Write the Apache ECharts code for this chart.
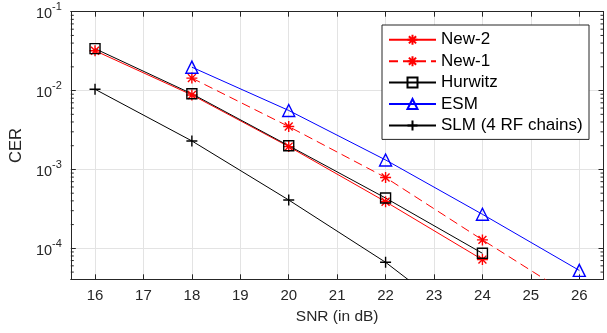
<!DOCTYPE html>
<html>
<head>
<meta charset="utf-8">
<script src="https://cdn.jsdelivr.net/npm/echarts@6/dist/echarts.min.js"></script>
<style>html,body{margin:0;padding:0;background:#fff}#c{width:607px;height:333px}</style>
</head>
<body>
<div id="c"></div>
<script>
var snr = [16, 18, 20, 22, 24, 26];
var new2 = [0.032, 0.0088, 0.00195, 0.00039, 0.000072, null];
var new1 = [null, 0.0144, 0.0035, 0.00079, 0.000128, 0.0000215];
var hurwitz = [0.034, 0.0091, 0.002, 0.000434, 0.0000865, null];
var esm = [null, 0.0198, 0.0056, 0.00132, 0.00027, 0.0000525];
var slm = [0.0104, 0.0023, 0.00041, 0.0000665, 0.0000076, null];
var xTicks = [16, 17, 18, 19, 20, 21, 22, 23, 24, 25, 26];
var seriesNames = ['New-2', 'New-1', 'Hurwitz', 'ESM', 'SLM (4 RF chains)'];

var X_MIN = 15.5, X_MAX = 26.5, Y_MIN = 4.05e-5, Y_MAX = 0.1;
var AX = '#262626', GRID = '#e3e3e3';

function pairs(vals) {
  var out = [];
  for (var i = 0; i < snr.length; i++) if (vals[i] != null) out.push([snr[i], vals[i]]);
  return out;
}
var minorVals = [];
for (var k = -5; k <= -2; k++) for (var m = 2; m <= 9; m++) {
  var v = m * Math.pow(10, k);
  if (v > Y_MIN && v < Y_MAX) minorVals.push([X_MIN, v]);
}

var STAR = 'path://M0,-1L0,1M-1,0L1,0M-0.72,-0.72L0.72,0.72M-0.72,0.72L0.72,-0.72';
var PLUS = 'path://M0,-1L0,1M-1,0L1,0';

function mk(name, vals, color, symbol, size, dashed) {
  return {
    name: name, type: 'line', data: pairs(vals),
    symbol: symbol, symbolSize: size, showAllSymbol: true,
    lineStyle: {color: color, width: 1, type: dashed ? [9, 5] : 'solid'},
    itemStyle: {color: 'transparent', borderColor: color, borderWidth: 1.4},
    emphasis: {disabled: true}, animation: false, z: 3
  };
}

function yLabel(v) {
  var e = Math.log10(v);
  if (Math.abs(e - Math.round(e)) > 1e-6) return '';
  return '{b|10}{s|' + Math.round(e) + '}';
}

var chart = echarts.init(document.getElementById('c'), null, {renderer: 'canvas'});
chart.setOption({
  animation: false,
  backgroundColor: '#fff',
  grid: {left: 69, right: 3.5, top: 11.7, bottom: 53.7, containLabel: false},
  xAxis: [{
    type: 'value', min: X_MIN, max: X_MAX, interval: 0.5,
    name: 'SNR (in dB)', nameLocation: 'middle', nameGap: 29,
    nameTextStyle: {fontFamily: 'Liberation Sans', fontSize: 15.5, color: AX},
    axisLine: {lineStyle: {color: AX, width: 1}},
    axisTick: {inside: true, length: 5, lineStyle: {color: AX}, customValues: xTicks},
    axisLabel: {fontFamily: 'Liberation Sans', fontSize: 15, color: AX, margin: 9,
      customValues: xTicks, formatter: function (v) { return String(v); }},
    splitLine: {show: true, lineStyle: {color: GRID, width: 1}},
    minorTick: {show: false}
  }, {
    type: 'value', position: 'top', min: X_MIN, max: X_MAX, interval: 0.5,
    axisLine: {show: true, lineStyle: {color: AX, width: 1}},
    axisTick: {inside: true, length: 5, lineStyle: {color: AX}, customValues: xTicks},
    axisLabel: {show: false}, splitLine: {show: false}
  }],
  yAxis: [{
    type: 'log', logBase: 10, min: Y_MIN, max: Y_MAX,
    name: 'CER', nameLocation: 'middle', nameGap: 43,
    nameTextStyle: {fontFamily: 'Liberation Sans', fontSize: 16.5, color: AX},
    axisLine: {show: true, lineStyle: {color: AX, width: 1}},
    axisTick: {inside: true, length: 5, lineStyle: {color: AX}},
    axisLabel: {
      margin: 9, formatter: yLabel,
      rich: {
        b: {fontFamily: 'Liberation Sans', fontSize: 14.5, color: AX, lineHeight: 20, verticalAlign: 'bottom'},
        s: {fontFamily: 'Liberation Sans', fontSize: 11, color: AX, lineHeight: 11, verticalAlign: 'top'}
      }
    },
    splitLine: {show: true, lineStyle: {color: GRID, width: 1}}
  }, {
    type: 'log', logBase: 10, min: Y_MIN, max: Y_MAX, position: 'right',
    axisLine: {show: true, lineStyle: {color: AX, width: 1}},
    axisTick: {inside: true, length: 5, lineStyle: {color: AX}},
    axisLabel: {show: false}, splitLine: {show: false}
  }],
  legend: {
    data: seriesNames, orient: 'vertical', left: 382, top: 25,
    itemWidth: 47, itemHeight: 12.5, itemGap: 4.4,
    padding: [6.3, 5, 5.5, 6],
    borderColor: AX, borderWidth: 1, backgroundColor: '#fff',
    textStyle: {fontFamily: 'Liberation Sans', fontSize: 17, color: '#000', lineHeight: 16, width: 143, overflow: 'none'},
    selectedMode: false, z: 10
  },
  series: [
    mk('New-2', new2, '#ff0000', STAR, 11, false),
    mk('New-1', new1, '#ff0000', STAR, 11, true),
    mk('Hurwitz', hurwitz, '#000000', 'rect', 10, false),
    mk('ESM', esm, '#0000ff', 'triangle', 12, false),
    mk('SLM (4 RF chains)', slm, '#000000', PLUS, 11, false),
    {
      type: 'custom', silent: true, animation: false, clip: false, z: 2,
      data: minorVals,
      renderItem: function (params, api) {
        var y = api.coord([X_MIN, api.value(1)])[1];
        var cs = params.coordSys;
        return {type: 'group', children: [
          {type: 'line', shape: {x1: cs.x, y1: y, x2: cs.x + 3, y2: y}, style: {stroke: AX, lineWidth: 1}},
          {type: 'line', shape: {x1: cs.x + cs.width - 3, y1: y, x2: cs.x + cs.width, y2: y}, style: {stroke: AX, lineWidth: 1}}
        ]};
      }
    }
  ]
});
</script>
</body>
</html>
